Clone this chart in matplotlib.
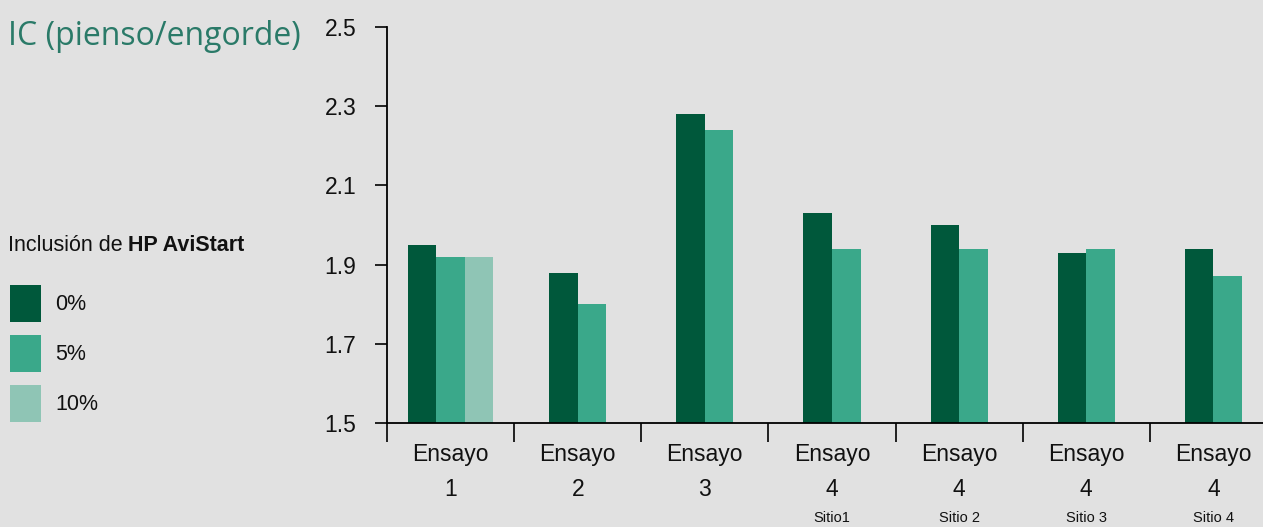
import numpy as np
import matplotlib
matplotlib.use('Agg')
from matplotlib import pyplot as plt
from matplotlib.transforms import blended_transform_factory
from matplotlib.patches import Rectangle

# data
ensayos = ['1', '2', '3', '4', '4', '4', '4']
sitios = ['', '', '', 'Sitio1', 'Sitio 2', 'Sitio 3', 'Sitio 4']
series_names = ['0%', '5%', '10%']
ic_0 = [1.95, 1.88, 2.28, 2.03, 2.00, 1.93, 1.94]
ic_5 = [1.92, 1.80, 2.24, 1.94, 1.94, 1.94, 1.87]
ic_10 = [1.92, None, None, None, None, None, None]
y_ticks = [1.5, 1.7, 1.9, 2.1, 2.3, 2.5]

bg = '#e1e1e1'
colors = ['#00583b', '#3aa88a', '#8fc5b5']
fnt = ['Liberation Sans', 'DejaVu Sans']

fig = plt.figure(figsize=(12.63, 5.27), dpi=100, facecolor=bg)
ax = fig.add_axes([0.3064, 0.1973, 0.6936, 0.7515])
ax.set_facecolor(bg)

w = 0.225
series = [ic_0, ic_5, ic_10]
for i in range(len(ensayos)):
    vals = [s[i] for s in series if s[i] is not None]
    n = len(vals)
    for j, v in enumerate(vals):
        x = i + (j - (n - 1) / 2) * w
        ax.bar(x, v - 1.5, bottom=1.5, width=w, color=colors[j], linewidth=0)

ax.set_ylim(1.5, 2.5)
ax.set_xlim(-0.5, 6.39)
ax.set_yticks(y_ticks)
ax.set_yticklabels([f'{t:.1f}' for t in y_ticks], family=fnt, fontsize=16.5, color='#111111')
ax.set_xticks(np.arange(-0.5, 6, 1))
ax.set_xticklabels([])
ax.tick_params(axis='y', direction='out', length=9, width=1.2, pad=13)
ax.tick_params(axis='x', direction='out', length=14, width=1.2)
for s in ['top', 'right']:
    ax.spines[s].set_visible(False)
for s in ['left', 'bottom']:
    ax.spines[s].set_linewidth(1.3)

tr = blended_transform_factory(ax.transData, ax.transAxes)
for i, (e, s) in enumerate(zip(ensayos, sitios)):
    ax.text(i, -0.05, 'Ensayo', transform=tr, ha='center', va='top',
            family=fnt, fontsize=16.5, color='#111111')
    ax.text(i, -0.14, e, transform=tr, ha='center', va='top',
            family=fnt, fontsize=16.5, color='#111111')
    if s:
        ax.text(i, -0.222, s, transform=tr, ha='center', va='top',
                family=fnt, fontsize=10.5, color='#111111')

fig.text(0.006, 0.93, 'IC (pienso/engorde)', ha='left', va='center',
         family=['Open Sans', 'DejaVu Sans'], fontsize=23, color='#2a7a68')

t1 = fig.text(0.006, 0.535, 'Inclusión de ', ha='left', va='center',
              family=fnt, fontsize=15.5, color='#111111')
fig.canvas.draw()
bb = t1.get_window_extent()
fig.text(bb.x1 / fig.bbox.width, 0.535, 'HP AviStart', ha='left', va='center',
         family=fnt, fontsize=15.5, fontweight='bold', color='#111111')

for k, name in enumerate(series_names):
    y0 = 1 - (322 + k * 50) / 527
    fig.patches.append(Rectangle((10 / 1263, y0), 31 / 1263, 37 / 527,
                                 transform=fig.transFigure, color=colors[k], linewidth=0))
    fig.text(55 / 1263, y0 + 18 / 527, name, ha='left', va='center',
             family=fnt, fontsize=15.5, color='#111111')

fig.savefig('out.png', dpi=100, facecolor=bg)
